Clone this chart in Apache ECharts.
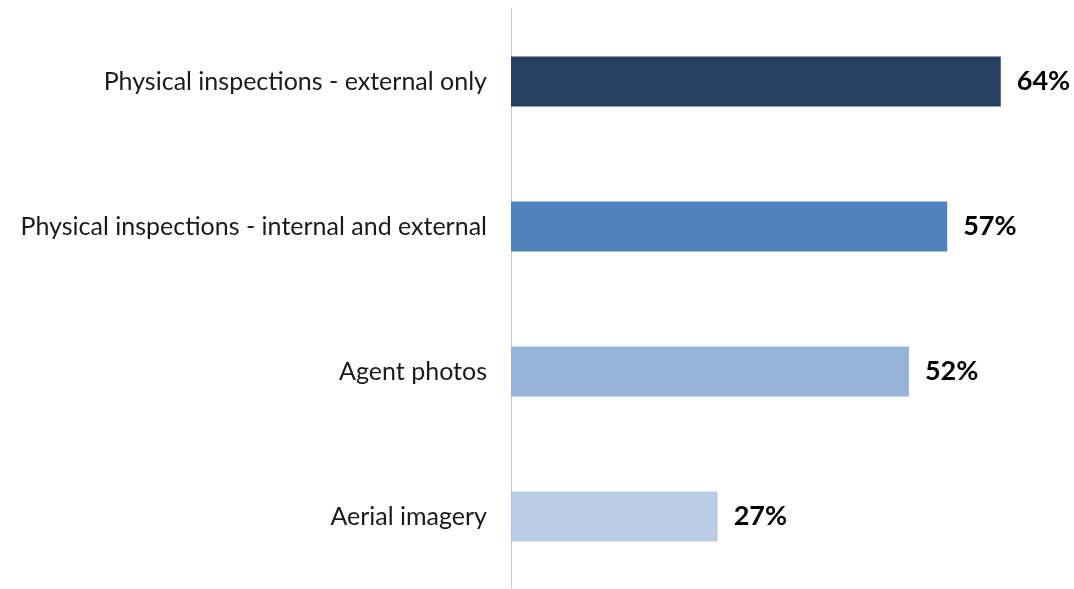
<!DOCTYPE html>
<html>
<head>
<meta charset="utf-8">
<script src="https://cdn.jsdelivr.net/npm/echarts@6/dist/echarts.min.js"></script>
<style>
  html, body { margin: 0; padding: 0; background: #fff; }
  #chart { width: 1074px; height: 589px; }
</style>
</head>
<body>
<div id="chart"></div>
<script>
// Inspection methods and share of respondents using each (%)
const categories = [
  'Physical inspections - external only',
  'Physical inspections - internal and external',
  'Agent photos',
  'Aerial imagery'
];
const values = [64, 57, 52, 27];
const barColors = ['#264061', '#4F81BD', '#95B3D7', '#B9CDE5'];

const chart = echarts.init(document.getElementById('chart'), null, { renderer: 'canvas' });

chart.setOption({
  animation: false,
  grid: { left: 511, top: 9, width: 551, height: 580, containLabel: false },
  xAxis: {
    type: 'value',
    min: 0,
    max: 72,
    show: false
  },
  yAxis: {
    type: 'category',
    inverse: true,
    data: categories,
    axisLine: { show: true, lineStyle: { color: '#BFBFBF', type: 'dotted', width: 1 } },
    axisTick: { show: false },
    axisLabel: {
      color: '#1a1a1a',
      fontFamily: 'Lato, "Open Sans", sans-serif',
      fontSize: 25,
      margin: 24
    }
  },
  series: [{
    type: 'bar',
    data: values.map((v, i) => ({
      value: v,
      itemStyle: {
        color: barColors[i],
        borderColor: i === 3 ? '#A6B8CF' : barColors[i],
        borderType: i === 3 ? 'dotted' : 'solid',
        borderWidth: i === 3 ? 1 : 0
      }
    })),
    barWidth: 50,
    label: {
      show: true,
      position: 'right',
      distance: 16,
      formatter: p => p.value + '%',
      color: '#000',
      fontWeight: 'bold',
      fontSize: 27,
      fontFamily: 'Lato, "Open Sans", sans-serif'
    }
  }]
});
</script>
</body>
</html>
